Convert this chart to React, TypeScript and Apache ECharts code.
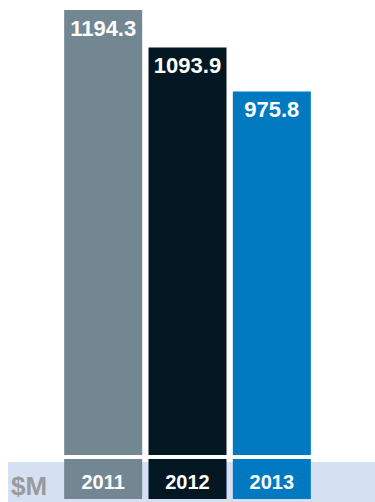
import React, { useEffect, useRef } from "react";
import * as echarts from "echarts";

const categories = ["2011", "2012", "2013"];
const values = [1194.3, 1093.9, 975.8];
const barColors = ["#738793", "#021722", "#0079c1"];
const unitLabel = "$M";

const FONT = "'Liberation Sans', Arial, sans-serif";

export default function App() {
  const ref = useRef<HTMLDivElement>(null);
  useEffect(() => {
    document.body.style.margin = "0";
    if (!ref.current) return;
    const chart = echarts.init(ref.current, null, { renderer: "svg" });
    const rich: Record<string, any> = {};
    categories.forEach((c, i) => {
      rich["c" + i] = {
        backgroundColor: barColors[i],
        width: 78,
        height: 34,
        lineHeight: 34,
        padding: [6, 0, 0, 0],
        align: "center",
        color: "#ffffff",
        fontSize: 20,
        fontWeight: "bold",
        fontFamily: FONT,
      };
    });
    chart.setOption({
      animation: false,
      grid: { left: 61, right: 61, top: 10, bottom: 47 },
      graphic: [
        {
          type: "rect",
          z: -10,
          shape: { x: 8, y: 462, width: 367, height: 40 },
          style: { fill: "#d5e1f3" },
        },
        {
          type: "text",
          x: 11,
          y: 486,
          style: {
            text: unitLabel,
            fill: "#9a9a9a",
            font: `bold 26px ${FONT}`,
            verticalAlign: "middle",
            align: "left",
          },
        },
      ],
      xAxis: {
        type: "category",
        data: categories,
        axisLine: { show: false },
        axisTick: { show: false },
        axisLabel: {
          margin: 7,
          formatter: (v: string) => `{c${categories.indexOf(v)}|${v}}`,
          rich,
        },
      },
      yAxis: {
        type: "value",
        min: 0,
        max: 1194.3,
        show: false,
        splitLine: { show: false },
      },
      series: [
        {
          type: "bar",
          barWidth: 78,
          data: values.map((v, i) => ({ value: v, itemStyle: { color: barColors[i] } })),
          label: {
            show: true,
            position: "insideTop",
            distance: 7,
            color: "#ffffff",
            fontSize: 22,
            fontWeight: "bold",
            fontFamily: FONT,
          },
        },
      ],
    });
    return () => chart.dispose();
  }, []);
  return <div ref={ref} style={{ width: 375, height: 502 }} />;
}
